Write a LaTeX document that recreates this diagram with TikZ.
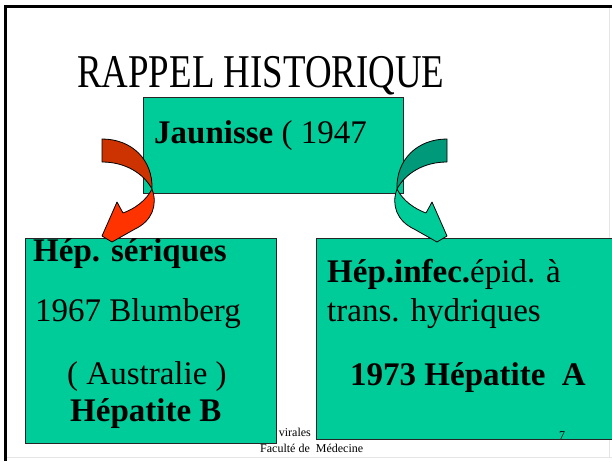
\documentclass[tikz,border=0pt]{standalone}
\usepackage{graphicx}
\usepackage{fontspec}
\setmainfont{Liberation Serif}
\definecolor{boxteal}{HTML}{00CC99}
\definecolor{tealback}{HTML}{00997A}
\definecolor{redback}{HTML}{CC3300}
\definecolor{redfront}{HTML}{FF3300}
\begin{document}
\begin{tikzpicture}[x=1pt,y=-1pt,
  box/.style={draw=black!85, line width=0.9pt, fill=boxteal, anchor=north west, inner sep=0pt},
  txt/.style={anchor=base west, inner sep=0pt, font=\fontsize{33}{38}\selectfont},
  foot/.style={anchor=base west, inner sep=0pt, font=\fontsize{12}{14}\selectfont},
  arrowline/.style={draw=black, line width=0.8pt, line join=round},
  pics/curvarrow/.style n args={2}{code={
    \filldraw[fill=#1, arrowline] (102,139) .. controls (132,139) and (153,160) .. (152,189)
      .. controls (144,174) and (126,162) .. (102,162) -- cycle;
    \filldraw[fill=#2, arrowline] (152,189) .. controls (158,205) and (152,221) .. (135,229)
      -- (112,242) -- (102,236) -- (117,202) -- (123,213)
      .. controls (134,209) and (146,201) .. (152,189) -- cycle;
  }}]
\useasboundingbox (0,0) rectangle (612,461);
\fill[white] (0,0) rectangle (612,461);
% frame
\draw[black!10, line width=0.8pt] (7,457) -- (612,457);
\draw[black!10, line width=0.8pt] (609,8) -- (609,457);
\draw[black, line width=3pt] (5.5,461) -- (5.5,6.5) -- (612,6.5);
% title
\node[txt, font=\fontsize{47}{52}\selectfont] (title) at (77,87) {\scalebox{0.785}[1]{RAPPEL HISTORIQUE}};
% footer (partly behind the left box)
\node[foot] (foot1) at (271,436) {s virales};
\node[foot] (foot2) at (260,452) {Faculté de\ \ Médecine};
% boxes
\node[box, minimum width=260pt, minimum height=96pt] (center) at (143,97) {};
\node[box, minimum width=251pt, minimum height=205pt] (leftbox) at (25,238) {};
\node[box, minimum width=300pt, minimum height=201pt] (rightbox) at (316,238) {};
% texts
\node[txt] (jaun) at (154,143) {\textbf{Jaunisse} ( 1947};
\node[txt] (hs) at (33,261) {\textbf{Hép. sériques}};
\node[txt] (blum) at (35,321) {1967 Blumberg};
\node[txt] (aus) at (67,384) {( Australie )};
\node[txt] (hb) at (70,421) {\textbf{Hépatite B}};
\node[txt] (hi) at (327,282) {\textbf{Hép.infec.}épid. à};
\node[txt] (th) at (327,321) {trans. hydriques};
\node[txt] (ha) at (350,385) {\textbf{1973 Hépatite\ \ A}};
\node[foot] (page) at (559,439) {7};
% curved arrows
\pic (redarrow) at (0,0) {curvarrow={redback}{redfront}};
\pic[xscale=-1] (tealarrow) at (549,0) {curvarrow={tealback}{boxteal}};
\end{tikzpicture}
\end{document}
